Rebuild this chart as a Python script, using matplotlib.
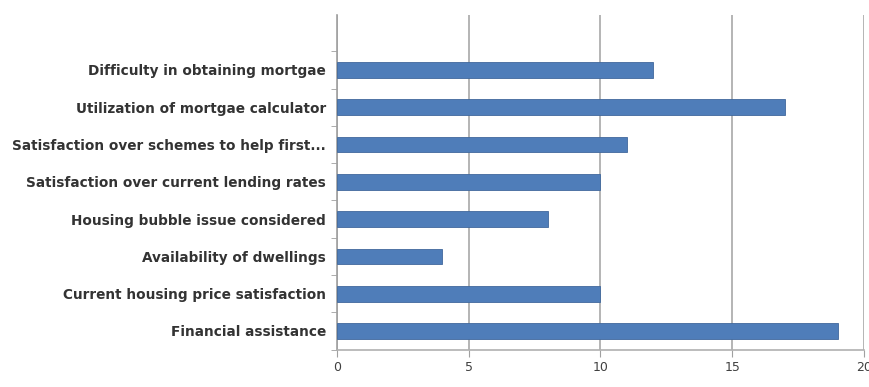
import matplotlib
matplotlib.use("Agg")
import matplotlib.pyplot as plt
import numpy as np

categories = [
    "Difficulty in obtaining mortgae",
    "Utilization of mortgae calculator",
    "Satisfaction over schemes to help first...",
    "Satisfaction over current lending rates",
    "Housing bubble issue considered",
    "Availability of dwellings",
    "Current housing price satisfaction",
    "Financial assistance",
]
values = [12, 17, 11, 10, 8, 4, 10, 19]
xticks = [0, 5, 10, 15, 20]

fig = plt.figure(figsize=(8.7, 3.87), dpi=100)
ax = fig.add_axes([0.3874, 0.0956, 0.6056, 0.8656])

n = len(categories)
pos = np.arange(n)[::-1]
ax.barh(pos, values, height=0.42, color="#4F7DB9", edgecolor="#41689C", linewidth=0.6, zorder=3)

ax.set_xlim(0, 20)
ax.set_ylim(-0.51, n - 1 + 1.47)
ax.set_xticks(xticks)
ax.set_xticklabels([str(t) for t in xticks], fontsize=9, color="#404040")
ax.set_yticks(pos)
ax.set_yticklabels(categories, fontsize=9.8, fontweight="bold", color="#333333")
ax.tick_params(axis="y", length=0, pad=8)
ax.set_yticks(np.arange(-0.5, n, 1.0), minor=True)
ax.tick_params(axis="y", which="minor", length=4, color="#A0A0A0")
ax.tick_params(axis="x", length=5, color="#A0A0A0", pad=3)

ax.grid(axis="x", color="#A8A8A8", linewidth=1.2, zorder=0)
for s in ["top", "right"]:
    ax.spines[s].set_visible(False)
ax.spines["left"].set_color("#A0A0A0")
ax.spines["left"].set_linewidth(1.2)
ax.spines["bottom"].set_color("#B0B0B0")
ax.spines["bottom"].set_linewidth(1.2)
ax.spines["bottom"].set_bounds(0, 20)

fig.savefig("out.png", dpi=100)
